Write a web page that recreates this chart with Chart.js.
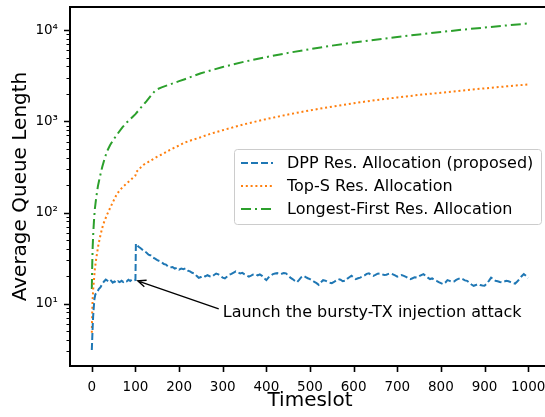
<!DOCTYPE html>
<html>
<head>
<meta charset="utf-8">
<script src="https://cdn.jsdelivr.net/npm/chart.js@4.4.1/dist/chart.umd.min.js"></script>
<style>
  html, body { margin: 0; padding: 0; background: #fff; overflow: hidden; }
  #wrap { width: 550px; height: 417px; }
</style>
</head>
<body>
<div id="wrap"><canvas id="chart" width="550" height="417"></canvas></div>
<script>
// DPP Res. Allocation (proposed)
const dppT = [0, 1, 2, 3, 4, 5, 6, 8, 10, 13, 16, 20, 24, 28, 32, 36, 40, 44, 48, 52, 56, 60, 64, 68, 72, 76, 80, 84, 88, 92, 96, 100,
  101, 104, 108, 112, 116, 120, 125, 130, 135, 140, 145, 150, 155, 160, 165, 170, 175, 180, 185, 190, 195, 200,
  205, 210, 215, 220, 225, 230, 235, 240, 245, 250, 255, 260, 265, 270, 275, 280, 285, 290, 295, 300,
  305, 310, 315, 320, 325, 330, 335, 340, 345, 350, 355, 360, 365, 370, 375, 380, 385, 390, 395, 400,
  405, 410, 415, 420, 425, 430, 435, 440, 445, 450, 455, 460, 465, 470, 475, 480, 485, 490, 495, 500,
  505, 510, 515, 520, 525, 530, 535, 540, 545, 550, 555, 560, 565, 570, 575, 580, 585, 590, 595, 600,
  605, 610, 615, 620, 625, 630, 635, 640, 645, 650, 655, 660, 665, 670, 675, 680, 685, 690, 695, 700,
  705, 710, 715, 720, 725, 730, 735, 740, 745, 750, 755, 760, 765, 770, 775, 780, 785, 790, 795, 800,
  805, 810, 815, 820, 825, 830, 835, 840, 845, 850, 855, 860, 865, 870, 875, 880, 885, 890, 895, 900,
  905, 910, 915, 920, 925, 930, 935, 940, 945, 950, 955, 960, 965, 970, 975, 980, 985, 990, 995, 1000];
const dppV = [3.1, 4.2, 5.6, 7.2, 8.5, 9.8, 11.2, 12.6, 13.0, 13.5, 14.5, 15.2, 16.5, 17.5, 18.4, 17.8, 17.2, 17.9, 17.0, 17.5, 16.9, 17.6, 17.2, 17.8, 17.3, 17.9, 17.6, 18.3, 17.7, 18.4, 18.0, 18.2,
  45.5, 43.5, 41.8, 40.5, 39.0, 37.6, 36.4, 34.5, 33.8, 32.0, 31.2, 30.0, 29.4, 28.6, 27.2, 26.8, 25.5, 25.0, 25.2, 24.2, 24.8, 23.6,
  24.3, 23.9, 24.4, 23.0, 22.6, 21.8, 21.5, 20.2, 19.2, 19.6, 20.3, 19.9, 20.5, 20.0, 19.7, 20.6, 21.4, 21.0, 20.1, 19.3,
  18.9, 19.8, 20.8, 21.2, 21.9, 22.6, 22.0, 21.4, 21.8, 21.0, 20.4, 19.8, 20.3, 20.9, 21.1, 20.4, 20.9, 20.2, 19.0, 18.1,
  19.4, 20.3, 21.1, 21.4, 21.6, 21.0, 21.3, 21.7, 21.5, 20.4, 19.3, 18.6, 17.8, 17.1, 18.2, 19.5, 20.2, 19.6, 19.0, 18.6,
  18.0, 17.3, 16.8, 16.1, 17.2, 18.1, 17.9, 17.4, 17.0, 16.8, 17.3, 18.0, 18.6, 18.3, 17.6, 17.8, 18.7, 19.5, 20.2, 19.4,
  18.6, 19.0, 19.3, 19.8, 20.4, 21.2, 21.5, 20.8, 20.2, 20.7, 21.3, 21.5, 21.0, 20.6, 20.8, 21.2, 21.5, 21.0, 20.4, 19.8,
  20.1, 20.6, 20.2, 19.7, 19.1, 18.6, 19.0, 19.5, 19.3, 20.0, 20.6, 21.1, 20.2, 19.3, 18.6, 18.9, 18.2, 17.8, 17.2, 16.8,
  16.4, 17.0, 18.1, 17.8, 17.3, 17.5, 18.2, 18.7, 19.1, 18.6, 18.0, 17.8, 17.0, 16.2, 15.7, 16.0, 16.4, 16.0, 15.8, 15.7,
  16.6, 17.8, 19.3, 18.6, 17.8, 17.6, 17.3, 17.1, 17.5, 17.8, 17.6, 17.2, 16.8, 16.6, 17.5, 18.6, 20.0, 21.1, 20.2, 19.1];

// Top-S Res. Allocation
const topsT = [0, 1, 2, 3, 5, 7, 10, 15, 20, 26, 35, 43, 50, 57, 65, 78, 90, 100, 101, 110, 118, 130, 148, 165, 179, 195, 213, 230, 244, 270,
  300, 350, 400, 450, 500, 550, 600, 650, 700, 750, 800, 850, 900, 950, 1000];
const topsV = [4.8, 8.5, 11.5, 14, 18.5, 24, 31, 44, 57, 74, 95, 115, 135, 158, 178, 205, 230, 255, 275, 305, 332, 360, 404, 445, 486, 530, 586, 625, 656, 725,
  800, 930, 1060, 1190, 1320, 1450, 1580, 1710, 1830, 1950, 2060, 2180, 2300, 2420, 2540];

// Longest-First Res. Allocation
const lfT = [0, 1, 2, 3, 4, 5, 7, 10, 14, 18, 24, 30, 35, 42, 50, 60, 70, 80, 87, 95, 100, 106, 115, 125, 135, 144, 150, 160, 179, 200, 213, 250,
  300, 350, 400, 450, 500, 550, 600, 650, 700, 750, 800, 850, 900, 950, 1000];
const lfV = [14.5, 28, 42, 55, 68, 82, 110, 145, 195, 240, 318, 400, 470, 550, 635, 740, 860, 970, 1045, 1140, 1200, 1300, 1460, 1660, 1900, 2140, 2250, 2360, 2540, 2760, 2900, 3370,
  3950, 4520, 5080, 5640, 6200, 6770, 7330, 7880, 8420, 8990, 9560, 10130, 10700, 11280, 11850];

const seriesNames = ["DPP Res. Allocation (proposed)", "Top-S Res. Allocation", "Longest-First Res. Allocation"];
const xTicks = [0, 100, 200, 300, 400, 500, 600, 700, 800, 900, 1000];
const yMajor = [10, 100, 1000, 10000];
const yMajorLabels = ["10\u00b9", "10\u00b2", "10\u00b3", "10\u2074"];
const yMinor = [3, 4, 5, 6, 7, 8, 9, 20, 30, 40, 50, 60, 70, 80, 90, 200, 300, 400, 500, 600, 700, 800, 900,
  2000, 3000, 4000, 5000, 6000, 7000, 8000, 9000];
const annoText = "Launch the bursty-TX injection attack";

const FONT = "'DejaVu Sans', sans-serif";
const toXY = (ts, vs) => ts.map((t, i) => ({ x: t, y: vs[i] }));

// spines + tick marks (matplotlib style, major / minor lengths)
const framePlugin = {
  id: "frame",
  afterDatasetsDraw(chart) {
    const { ctx, chartArea: a, scales: { x, y } } = chart;
    ctx.save();
    ctx.strokeStyle = "#000";
    ctx.lineWidth = 1.6;
    ctx.beginPath();
    xTicks.forEach((v) => {
      const px = Math.round(x.getPixelForValue(v)) + 0.5;
      ctx.moveTo(px, a.bottom);
      ctx.lineTo(px, a.bottom + 6);
    });
    yMajor.forEach((v) => {
      const py = Math.round(y.getPixelForValue(v)) + 0.5;
      ctx.moveTo(a.left, py);
      ctx.lineTo(a.left - 6, py);
    });
    ctx.stroke();
    ctx.lineWidth = 1.1;
    ctx.beginPath();
    yMinor.forEach((v) => {
      const py = Math.round(y.getPixelForValue(v)) + 0.5;
      ctx.moveTo(a.left, py);
      ctx.lineTo(a.left - 3.5, py);
    });
    ctx.stroke();
    ctx.lineWidth = 2;
    ctx.strokeRect(a.left, a.top, a.right - a.left, a.bottom - a.top);
    ctx.restore();
  },
  afterDraw(chart) {
    const { ctx, scales: { x, y } } = chart;
    ctx.save();
    // annotation with arrow
    const tipX = x.getPixelForValue(105), tipY = y.getPixelForValue(17.8);
    const txX = x.getPixelForValue(300), txY = y.getPixelForValue(7.9);
    ctx.font = "16px " + FONT;
    ctx.fillStyle = "#000";
    ctx.textBaseline = "middle";
    ctx.textAlign = "left";
    ctx.fillText(annoText, txX, txY);
    const sx = txX - 4, sy = txY - 4;
    ctx.strokeStyle = "#000";
    ctx.lineWidth = 1.3;
    ctx.beginPath();
    ctx.moveTo(sx, sy);
    ctx.lineTo(tipX, tipY);
    const ang = Math.atan2(sy - tipY, sx - tipX);
    ctx.moveTo(tipX + 9 * Math.cos(ang + 0.4), tipY + 9 * Math.sin(ang + 0.4));
    ctx.lineTo(tipX, tipY);
    ctx.lineTo(tipX + 9 * Math.cos(ang - 0.4), tipY + 9 * Math.sin(ang - 0.4));
    ctx.stroke();

    // legend box
    const bx = 234, by = 149, bw = 307, bh = 75;
    ctx.fillStyle = "rgba(255,255,255,0.8)";
    ctx.strokeStyle = "#cccccc";
    ctx.lineWidth = 1;
    ctx.beginPath();
    ctx.roundRect(bx + 0.5, by + 0.5, bw, bh, 3);
    ctx.fill();
    ctx.stroke();
    chart.data.datasets.forEach((ds, i) => {
      const ry = 163 + i * 23;
      ctx.strokeStyle = ds.borderColor;
      ctx.lineWidth = ds.borderWidth;
      ctx.setLineDash(ds.borderDash);
      ctx.beginPath();
      ctx.moveTo(241, ry);
      ctx.lineTo(273, ry);
      ctx.stroke();
      ctx.setLineDash([]);
      ctx.fillStyle = "#000";
      ctx.font = "16px " + FONT;
      ctx.fillText(ds.label, 287, ry + 1);
    });
    ctx.restore();
  }
};

new Chart(document.getElementById("chart"), {
  type: "line",
  data: {
    datasets: [
      { label: seriesNames[0], data: toXY(dppT, dppV), borderColor: "#1f77b4", borderWidth: 2, borderDash: [7, 3] },
      { label: seriesNames[1], data: toXY(topsT, topsV), borderColor: "#ff7f0e", borderWidth: 2, borderDash: [2, 2.8] },
      { label: seriesNames[2], data: toXY(lfT, lfV), borderColor: "#2ca02c", borderWidth: 2, borderDash: [10, 4, 2, 4] }
    ]
  },
  options: {
    responsive: false,
    devicePixelRatio: 1,
    animation: false,
    layout: { padding: { top: 7, right: 0, left: 0, bottom: 0 } },
    elements: { point: { radius: 0 }, line: { tension: 0, fill: false } },
    plugins: { legend: { display: false }, tooltip: { enabled: false } },
    scales: {
      x: {
        type: "linear",
        min: -50,
        max: 1050,
        grid: { display: false },
        border: { display: false },
        afterFit: (s) => { s.height = 51; s.paddingLeft = 0; s.paddingRight = 0; },
        afterBuildTicks: (s) => { s.ticks = xTicks.map((v) => ({ value: v })); },
        ticks: { autoSkip: false, maxRotation: 0, padding: 5, color: "#000", font: { family: FONT, size: 13.5 }, callback: (v) => String(v) },
        title: { display: true, text: "Timeslot", color: "#000", font: { family: FONT, size: 20 }, padding: { top: 4, bottom: 4 } }
      },
      y: {
        type: "logarithmic",
        min: 2.07,
        max: 17970,
        grid: { display: false },
        border: { display: false },
        afterFit: (s) => { s.width = 70; s.paddingTop = 0; s.paddingBottom = 0; },
        afterBuildTicks: (s) => { s.ticks = yMajor.map((v) => ({ value: v })); },
        ticks: { autoSkip: false, padding: 4, color: "#000", font: { family: FONT, size: 13.5 }, callback: (v) => yMajorLabels[yMajor.indexOf(v)] },
        title: { display: true, text: "Average Queue Length", color: "#000", font: { family: FONT, size: 20 }, padding: { top: 8.5, bottom: 4 } }
      }
    }
  },
  plugins: [framePlugin]
});
</script>
</body>
</html>
